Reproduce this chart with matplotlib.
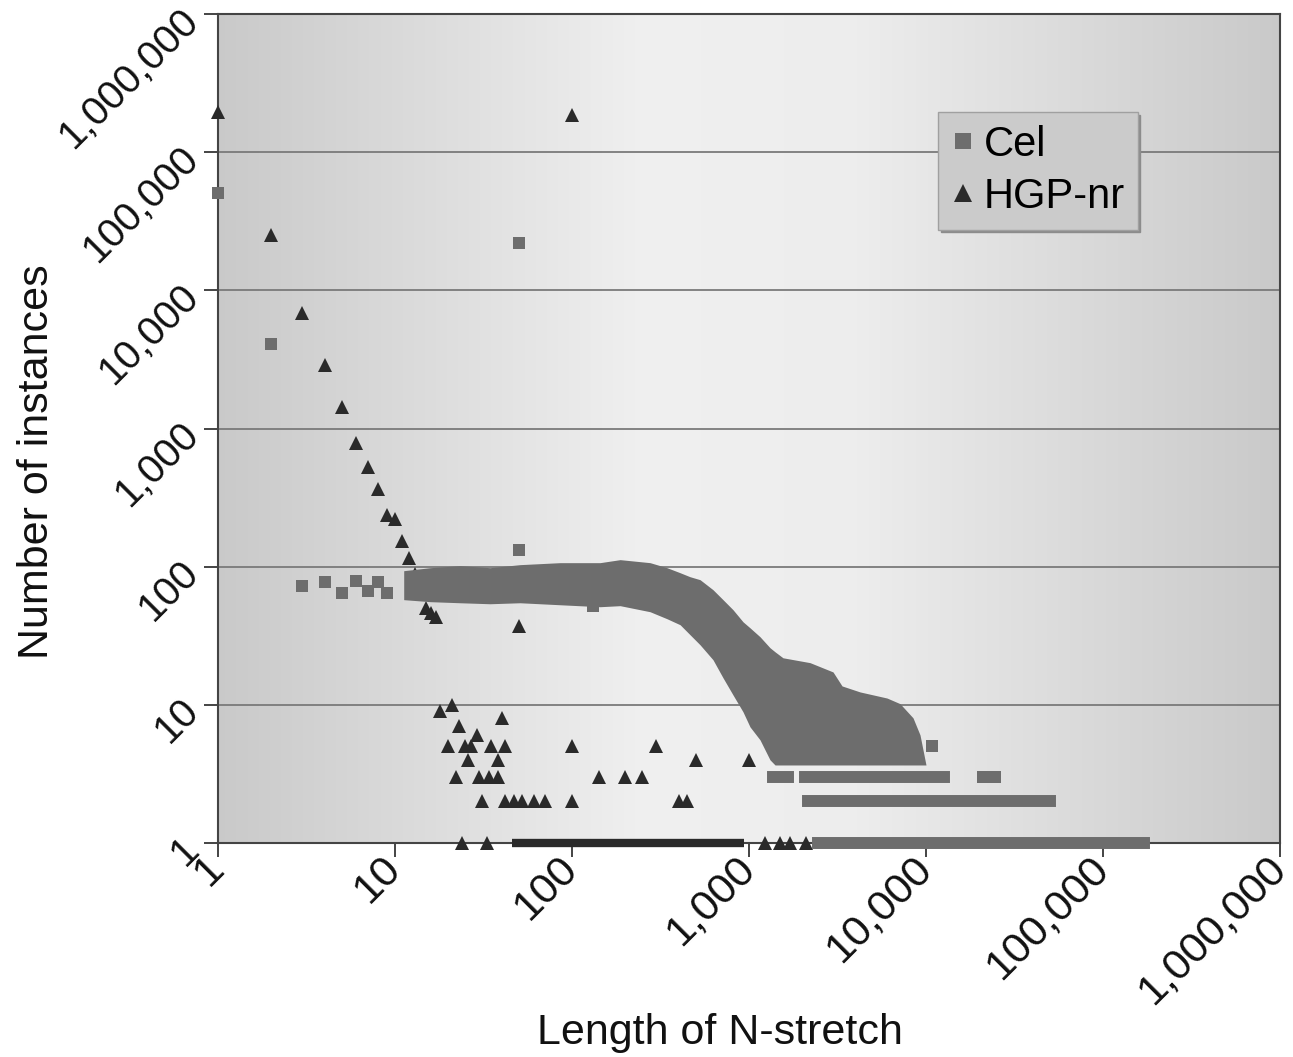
import numpy as np
import matplotlib
matplotlib.use('Agg')
import matplotlib.pyplot as plt
from matplotlib.ticker import FixedLocator, FuncFormatter, NullLocator
from matplotlib.lines import Line2D

plt.rcParams['font.family'] = ['Liberation Sans', 'DejaVu Sans']

# ---------------- data ----------------
decades = [1, 10, 100, 1000, 10000, 100000, 1000000]

# Cel: isolated squares
cel_len = [1, 2, 3, 4, 5, 6, 7, 8, 9, 50, 50, 131, 10800, 20990, 24540]
cel_cnt = [51000, 4060, 72, 77, 64, 79, 67, 78, 65, 22000, 131, 52, 5, 3, 3]

# Cel: dense cloud outline (length, upper count, lower count)
band_len = [11.2, 15.8, 23.3, 34.4, 50.8, 85.6, 144, 187, 276, 344, 408, 464, 529,
            626, 713, 812, 925, 1013, 1154, 1314, 1403, 1556, 2211, 2983, 3354,
            4238, 6022, 7131, 8446, 9250, 10000]
band_upper = [93.5, 98.3, 101.7, 98.3, 103.4, 106.9, 106.9, 112.4, 106.9, 98.3, 90.4,
              84.6, 80.5, 68.1, 57.7, 48.8, 39.9, 36.1, 31.1, 25.9, 24.2, 21.9, 20.2,
              17.3, 13.7, 12.4, 11.2, 10.2, 8.05, 6.06, 3.67]
band_lower = [57.7, 55.8, 54.8, 53.9, 54.8, 53.0, 51.3, 52.2, 47.2, 42.0, 38.0, 32.2,
              27.2, 21.2, 15.7, 11.8, 8.9, 6.93, 5.58, 4.0, 3.67, 3.67, 3.67, 3.67,
              3.67, 3.67, 3.67, 3.67, 3.67, 3.67, 3.67]

# Cel: runs of consecutive lengths at a constant count
cel_run_cnt = [3, 3, 2, 1]
cel_run_start = [1367, 2072, 2154, 2454]
cel_run_end = [1661, 12640, 50200, 170400]

# HGP-nr: isolated triangles
hgp_len = [1, 2, 3, 4, 5, 6, 7, 8, 9, 10, 11, 12, 13, 15, 16, 17, 50, 100,
           18, 21, 23, 40, 29, 20, 25, 27, 35, 42, 100, 300, 26, 38, 500, 1000,
           22, 30, 34, 38, 142, 200, 250, 31, 42, 47, 52, 61, 70, 100, 402, 446,
           24, 33, 1235, 1497, 1700, 2100]
hgp_cnt = [195000, 25000, 6900, 2900, 1420, 790, 530, 367, 235, 222, 154, 116, 88, 50, 46, 43, 37, 185000,
           9, 10, 7, 8, 6, 5, 5, 5, 5, 5, 5, 5, 4, 4, 4, 4,
           3, 3, 3, 3, 3, 3, 3, 2, 2, 2, 2, 2, 2, 2, 2, 2,
           1, 1, 1, 1, 1, 1]

# HGP-nr: run of consecutive lengths with count 1
hgp_run_cnt = [1]
hgp_run_start = [46]
hgp_run_end = [936]

# ---------------- styling ----------------
cel_color = '#6d6d6d'
hgp_color = '#2a2a2a'
sq_pt = 8.6
tri_pt = 9.5

fig = plt.figure(figsize=(12.93, 10.57), dpi=100)
ax = fig.add_axes([218/1293, 1-843/1057, (1280-218)/1293, (843-14)/1057])
ax.set_xscale('log')
ax.set_yscale('log')

# gradient background
xs = np.linspace(0, 1, 400)
gl = np.interp(xs, [0, 0.4, 0.6, 1.0], [0.79, 0.94, 0.93, 0.79])
img = np.dstack([gl, gl, gl])
ax.imshow(img, extent=(0, 1, 0, 1), transform=ax.transAxes, aspect='auto',
          zorder=0, interpolation='bilinear')
ax.set_xlim(1, 1e6)
ax.set_ylim(1, 1e6)

ax.yaxis.grid(True, color='#7a7a7a', lw=1.3, zorder=1)
ax.xaxis.grid(False)
ax.set_axisbelow(True)

# HGP-nr
hl = ax.hlines(hgp_run_cnt, hgp_run_start, hgp_run_end, colors=hgp_color,
               linewidth=6.0, zorder=3, clip_on=False)
hl.set_capstyle('butt')
ax.plot(hgp_len, hgp_cnt, linestyle='none', marker='^', markersize=tri_pt,
        color=hgp_color, markeredgewidth=0, zorder=3, clip_on=False)

# Cel
ax.fill_between(band_len, band_lower, band_upper, color=cel_color, lw=0, zorder=4)
cl = ax.hlines(cel_run_cnt, cel_run_start, cel_run_end, colors=cel_color,
               linewidth=sq_pt, zorder=4, clip_on=False)
cl.set_capstyle('projecting')
ax.plot(cel_len, cel_cnt, linestyle='none', marker='s', markersize=sq_pt,
        color=cel_color, markeredgewidth=0, zorder=4, clip_on=False)

# axes/ticks
fmt = FuncFormatter(lambda v, p: f"{int(round(v)):,}")
for axis in (ax.xaxis, ax.yaxis):
    axis.set_major_locator(FixedLocator(decades))
    axis.set_minor_locator(NullLocator())
    axis.set_major_formatter(fmt)

ax.tick_params(axis='both', which='major', length=10, width=1.4, color='#444444',
               labelcolor='#111111')
ax.tick_params(axis='x', pad=4, labelsize=31)
ax.tick_params(axis='y', pad=8, labelsize=29)
for lab in ax.get_xticklabels():
    lab.set_rotation(45)
    lab.set_ha('right')
    lab.set_va('center')
    lab.set_rotation_mode('anchor')
for lab in ax.get_yticklabels():
    lab.set_rotation(45)
    lab.set_ha('right')
    lab.set_va('center')
    lab.set_rotation_mode('anchor')

for s in ax.spines.values():
    s.set_color('#444444')
    s.set_linewidth(1.5)

ax.set_xlabel('Length of N-stretch', fontsize=31, color='#111111')
ax.xaxis.set_label_coords(0.4727, -0.205)
ax.set_ylabel('Number of instances', fontsize=31, color='#111111')
ax.yaxis.set_label_coords(-0.152, 0.46)

handles = [Line2D([], [], linestyle='none', marker='s', markersize=sq_pt * 1.35,
                  color=cel_color, markeredgewidth=0),
           Line2D([], [], linestyle='none', marker='^', markersize=tri_pt * 1.35,
                  color=hgp_color, markeredgewidth=0)]
leg = ax.legend(handles, ['Cel', 'HGP-nr'], loc='upper left',
                bbox_to_anchor=((938-218)/1062, (843-112)/829), borderaxespad=0,
                fontsize=30, frameon=True, fancybox=False,
                shadow={'color': '#8c8c8c', 'alpha': 1.0},
                handlelength=0.6, handletextpad=0.2, borderpad=0.3,
                labelspacing=0.3)
leg.get_frame().set_facecolor('#cbcbcb')
leg.get_frame().set_edgecolor('#a0a0a0')
leg.get_frame().set_linewidth(1.0)
leg.get_frame().set_alpha(1)
leg.set_zorder(10)

fig.savefig('out.png', dpi=100, facecolor='white')
